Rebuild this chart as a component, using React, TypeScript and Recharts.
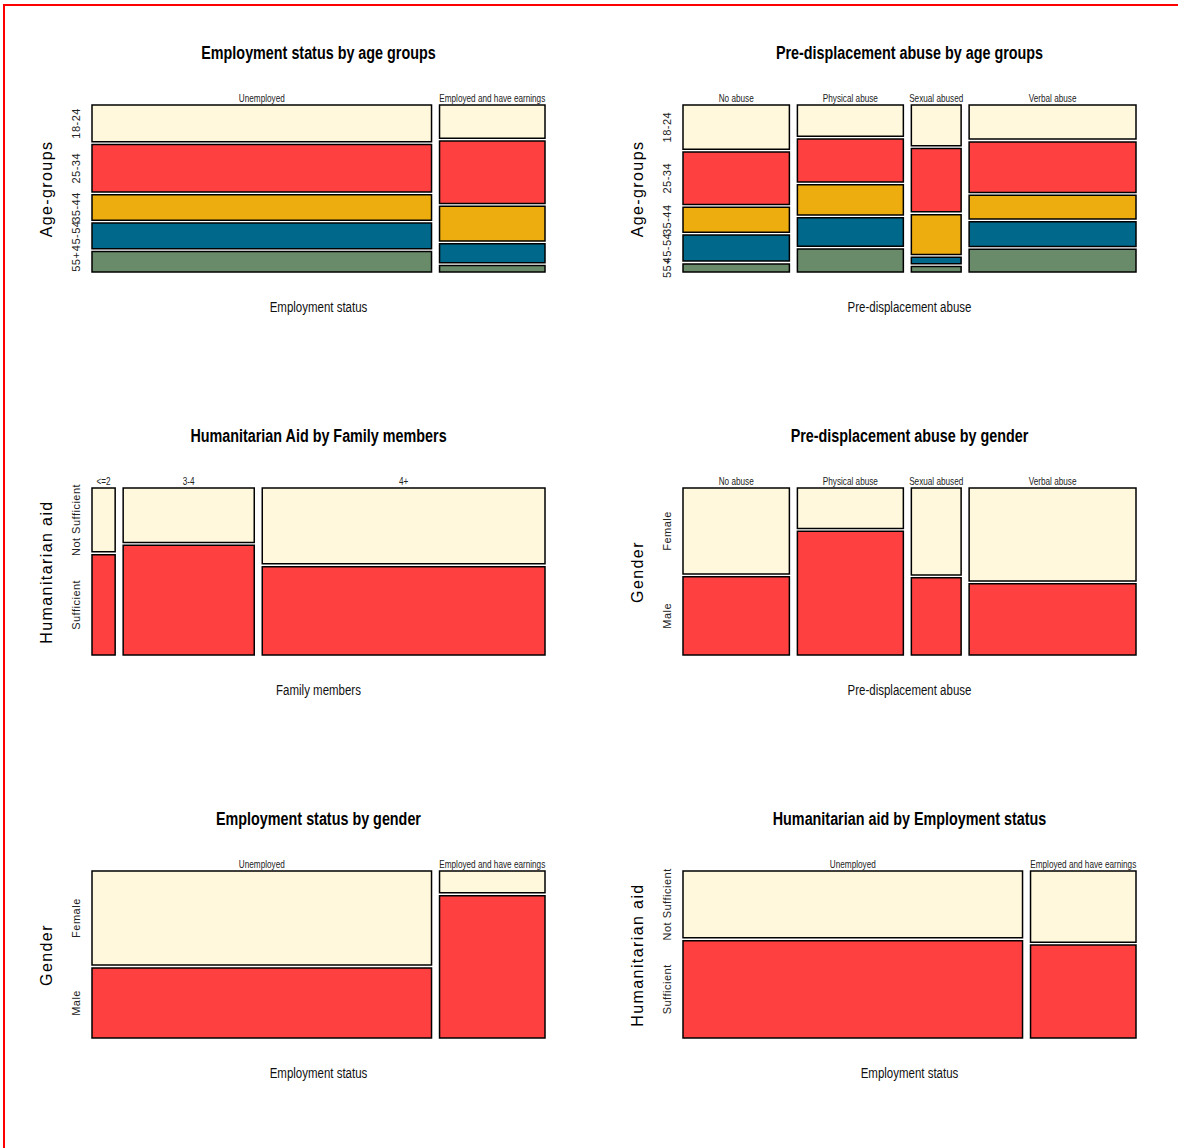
import React from "react";
import { ComposedChart, XAxis, YAxis, Scatter, ReferenceArea } from "recharts";

// categories
const ageGroups = ["18-24", "25-34", "35-44", "45-54", "55+"];
const employment = ["Unemployed", "Employed and have earnings"];
const abuseTypes = ["No abuse", "Physical abuse", "Sexual abused", "Verbal abuse"];
const familyMembers = ["<=2", "3-4", "4+"];
const aidLevels = ["Not Sufficient", "Sufficient"];
const genders = ["Female", "Male"];

// share of respondents in each column category
const employmentShare = [0.763, 0.237];
const abuseShare = [0.248, 0.247, 0.116, 0.389];
const familyShare = [0.053, 0.3, 0.647];

// share of each row category inside a column
const ageByEmployment = [
  [0.236, 0.304, 0.164, 0.164, 0.132],
  [0.213, 0.401, 0.223, 0.122, 0.041],
];
const ageByAbuse = [
  [0.284, 0.336, 0.161, 0.167, 0.052],
  [0.2, 0.276, 0.194, 0.183, 0.147],
  [0.262, 0.406, 0.256, 0.041, 0.035],
  [0.219, 0.325, 0.151, 0.159, 0.146],
];
const aidByFamily = [
  [0.389, 0.611],
  [0.332, 0.668],
  [0.462, 0.538],
];
const genderByAbuse = [
  [0.523, 0.477],
  [0.246, 0.754],
  [0.53, 0.47],
  [0.566, 0.434],
];
const genderByEmployment = [
  [0.573, 0.427],
  [0.133, 0.867],
];
const aidByEmployment = [
  [0.407, 0.593],
  [0.434, 0.566],
];

const palette = ["#FFF8DC", "#FF4040", "#EEAD0E", "#00688B", "#698B69"];

// no condensed face installed, so narrow text is squeezed with scaleX
const SANS = "'Liberation Sans', Arial, sans-serif";
const SQUEEZE = 0.82;

const PLOT_W = 453;
const PLOT_H = 167;
const GAP_X = 8;
const GAP_Y = 2.8;
const AXIS_W = 80;
const AXIS_H = 30;
const PAD = 40;

function ColTick(props: any) {
  const { x, y, index, labels } = props;
  return (
    <g transform={`translate(${x} ${y - 3}) scale(${SQUEEZE} 1)`}>
      <text x={0} y={0} textAnchor="middle" fontSize={10} fontFamily={SANS} fill="#222">
        {labels[index]}
      </text>
    </g>
  );
}

function RowTick(props: any) {
  const { x, y, index, labels } = props;
  const bx = x - 12;
  return (
    <text
      x={bx}
      y={y}
      transform={`rotate(-90 ${bx} ${y})`}
      textAnchor="middle"
      fontSize={11}
      letterSpacing={0.5}
      fontFamily={SANS}
      fill="#222"
    >
      {labels[index]}
    </text>
  );
}

interface MosaicProps {
  title: string;
  xTitle: string;
  yTitle: string;
  cols: string[];
  rows: string[];
  colShare: number[];
  shares: number[][];
  left: number;
  top: number;
}

function Mosaic({ title, xTitle, yTitle, cols, rows, colShare, shares, left, top }: MosaicProps) {
  const n = cols.length;
  const m = rows.length;
  const gx = GAP_X / (PLOT_W - GAP_X * (n - 1));
  const gy = GAP_Y / (PLOT_H - GAP_Y * (m - 1));
  const xMax = 1 + gx * (n - 1);
  const yMax = 1 + gy * (m - 1);
  const colTotal = colShare.reduce((a, b) => a + b, 0);

  const cells: { key: string; x1: number; x2: number; y1: number; y2: number; cx: number; cy: number; fill: string }[] = [];
  const colCenters: number[] = [];
  const rowCenters: number[] = [];
  let x0 = 0;
  colShare.forEach((w0, i) => {
    const w = w0 / colTotal;
    colCenters.push(x0 + w / 2);
    const rowTotal = shares[i].reduce((a, b) => a + b, 0);
    let y0 = 0;
    shares[i].forEach((h0, j) => {
      const h = h0 / rowTotal;
      cells.push({
        key: `${cols[i]}-${rows[j]}`,
        x1: x0,
        x2: x0 + w,
        y1: y0,
        y2: y0 + h,
        cx: x0 + w / 2,
        cy: y0 + h / 2,
        fill: palette[j],
      });
      if (i === 0) rowCenters.push(y0 + h / 2);
      y0 += h + gy;
    });
    x0 += w + gx;
  });

  return (
    <>
      <div
        style={{
          position: "absolute",
          left,
          top: top - 62,
          width: PLOT_W,
          height: 20,
          lineHeight: "20px",
          textAlign: "center",
          fontFamily: SANS,
          fontWeight: "bold",
          fontSize: 17.5,
          color: "#000",
          whiteSpace: "nowrap",
          transform: `scaleX(${SQUEEZE})`,
        }}
      >
        {title}
      </div>
      <div
        style={{
          position: "absolute",
          left,
          top: top + PLOT_H + 27,
          width: PLOT_W,
          height: 16,
          lineHeight: "16px",
          textAlign: "center",
          fontFamily: SANS,
          fontSize: 14,
          color: "#111",
          transform: `scaleX(${SQUEEZE})`,
        }}
      >
        {xTitle}
      </div>
      <div
        style={{
          position: "absolute",
          left: left - 45 - 100,
          top: top + PLOT_H / 2 - 10,
          width: 200,
          height: 20,
          lineHeight: "20px",
          textAlign: "center",
          fontFamily: SANS,
          fontSize: 16,
          letterSpacing: 1.4,
          color: "#000",
          transform: "rotate(-90deg)",
          whiteSpace: "nowrap",
        }}
      >
        {yTitle}
      </div>
      <div style={{ position: "absolute", left: left - AXIS_W, top: top - AXIS_H }}>
        <ComposedChart
          width={AXIS_W + PLOT_W + PAD}
          height={AXIS_H + PLOT_H + 10}
          margin={{ top: 0, right: PAD, bottom: 10, left: 0 }}
        >
          <XAxis
            type="number"
            dataKey="cx"
            orientation="top"
            domain={[0, xMax]}
            ticks={colCenters}
            interval={0}
            height={AXIS_H}
            axisLine={false}
            tickLine={false}
            tickSize={0}
            tickMargin={0}
            allowDataOverflow
            tick={<ColTick labels={cols} />}
          />
          <YAxis
            type="number"
            dataKey="cy"
            domain={[0, yMax]}
            reversed
            ticks={rowCenters}
            interval={0}
            width={AXIS_W}
            axisLine={false}
            tickLine={false}
            tickSize={0}
            tickMargin={0}
            allowDataOverflow
            tick={<RowTick labels={rows} />}
          />
          <Scatter data={cells} isAnimationActive={false} shape={() => <g />} />
          {cells.map((c) => (
            <ReferenceArea
              key={c.key}
              x1={c.x1}
              x2={c.x2}
              y1={c.y1}
              y2={c.y2}
              fill={c.fill}
              fillOpacity={1}
              stroke="#000"
              strokeWidth={1.5}
              ifOverflow="visible"
            />
          ))}
        </ComposedChart>
      </div>
    </>
  );
}

export default function App() {
  return (
    <div
      style={{
        position: "relative",
        width: 1178,
        height: 1148,
        overflow: "hidden",
        background: "#fff",
      }}
    >
      <style>{"html,body{margin:0;padding:0;overflow:hidden;background:#fff}"}</style>
      <div
        style={{
          position: "absolute",
          left: 3,
          top: 4,
          width: 1220,
          height: 1220,
          border: "2px solid #ff0000",
        }}
      />
      <Mosaic
        title="Employment status by age groups"
        xTitle="Employment status"
        yTitle="Age-groups"
        cols={employment}
        rows={ageGroups}
        colShare={employmentShare}
        shares={ageByEmployment}
        left={92}
        top={105}
      />
      <Mosaic
        title="Pre-displacement abuse by age groups"
        xTitle="Pre-displacement abuse"
        yTitle="Age-groups"
        cols={abuseTypes}
        rows={ageGroups}
        colShare={abuseShare}
        shares={ageByAbuse}
        left={683}
        top={105}
      />
      <Mosaic
        title="Humanitarian Aid by Family members"
        xTitle="Family members"
        yTitle="Humanitarian aid"
        cols={familyMembers}
        rows={aidLevels}
        colShare={familyShare}
        shares={aidByFamily}
        left={92}
        top={488}
      />
      <Mosaic
        title="Pre-displacement abuse by gender"
        xTitle="Pre-displacement abuse"
        yTitle="Gender"
        cols={abuseTypes}
        rows={genders}
        colShare={abuseShare}
        shares={genderByAbuse}
        left={683}
        top={488}
      />
      <Mosaic
        title="Employment status by gender"
        xTitle="Employment status"
        yTitle="Gender"
        cols={employment}
        rows={genders}
        colShare={employmentShare}
        shares={genderByEmployment}
        left={92}
        top={871}
      />
      <Mosaic
        title="Humanitarian aid by Employment status"
        xTitle="Employment status"
        yTitle="Humanitarian aid"
        cols={employment}
        rows={aidLevels}
        colShare={employmentShare}
        shares={aidByEmployment}
        left={683}
        top={871}
      />
    </div>
  );
}
